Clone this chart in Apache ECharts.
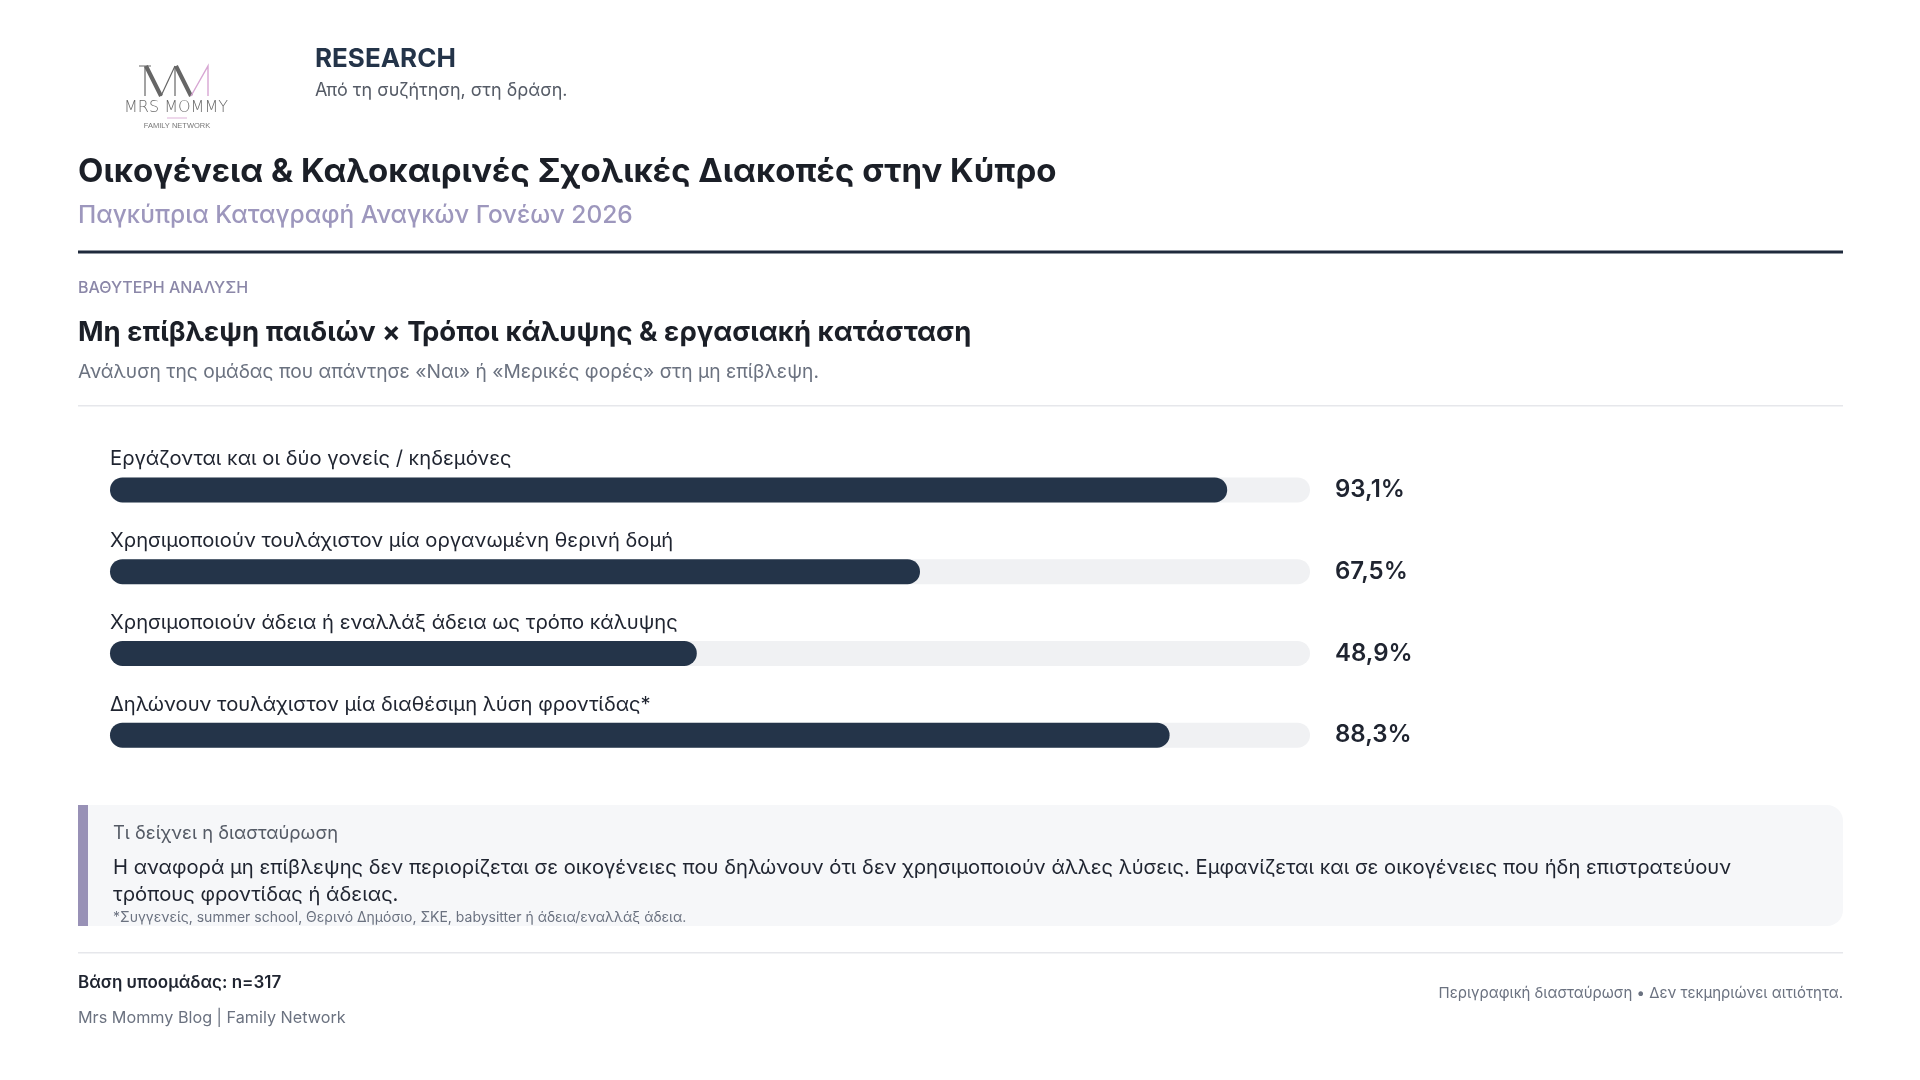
<!DOCTYPE html>
<html>
<head>
<meta charset="utf-8">
<script src="https://cdn.jsdelivr.net/npm/echarts@6/dist/echarts.min.js"></script>
<style>
html,body{margin:0;padding:0;background:#fff;}
#chart{width:1920px;height:1080px;}
</style>
</head>
<body>
<div id="chart"></div>
<script>
const categories = [
  'Εργάζονται και οι δύο γονείς / κηδεμόνες',
  'Χρησιμοποιούν τουλάχιστον μία οργανωμένη θερινή δομή',
  'Χρησιμοποιούν άδεια ή εναλλάξ άδεια ως τρόπο κάλυψης',
  'Δηλώνουν τουλάχιστον μία διαθέσιμη λύση φροντίδας*'
];
const values = [93.1, 67.5, 48.9, 88.3];
const valueLabels = values.map(v => v.toFixed(1).replace('.', ',') + '%');

const FONT = 'Inter, "Noto Sans", sans-serif';
const chart = echarts.init(document.getElementById('chart'), null, {renderer: 'canvas'});

const txt = (x, y, text, size, color, weight, align, extra) => ({
  type: 'text', x: x, y: y,
  style: Object.assign({text: text, fontSize: size, fill: color, fontWeight: weight || 400,
    fontFamily: FONT, textAlign: align || 'left', textVerticalAlign: 'middle'}, extra || {})
});

const graphics = [
  // logo
  {type: 'polyline', shape: {points: [[145, 96], [145, 66]]}, style: {stroke: '#666', lineWidth: 1.2, fill: null}},
  {type: 'polyline', shape: {points: [[146, 66], [161, 96]]}, style: {stroke: '#666', lineWidth: 4, fill: null}},
  {type: 'polyline', shape: {points: [[161, 96], [175, 66]]}, style: {stroke: '#666', lineWidth: 1.2, fill: null}},
  {type: 'polyline', shape: {points: [[175, 66], [175, 96]]}, style: {stroke: '#666', lineWidth: 1.2, fill: null}},
  {type: 'polyline', shape: {points: [[176, 66], [191, 96]]}, style: {stroke: '#666', lineWidth: 4, fill: null}},
  {type: 'polyline', shape: {points: [[191, 96], [208, 66], [208, 96]]}, style: {stroke: '#d7a6d3', lineWidth: 1.4, fill: null}},
  {type: 'polyline', shape: {points: [[139, 66], [151, 66]]}, style: {stroke: '#666', lineWidth: 1, fill: null}},
  txt(176, 108, 'MRS MOMMY', 16, '#6a6a6a', 300, 'center', {fontFamily: '"DejaVu Sans", sans-serif'}),
  {type: 'rect', shape: {x: 167, y: 117.5, width: 20, height: 1}, style: {fill: '#dcb0d6'}},
  txt(177, 126, 'FAMILY NETWORK', 7.5, '#777', 400, 'center', {fontFamily: '"Liberation Sans", sans-serif'}),

  // header
  txt(315, 59, 'RESEARCH', 26, '#243449', 700),
  txt(315, 91, 'Από τη συζήτηση, στη δράση.', 18, '#555b66', 400),
  txt(78, 172, 'Οικογένεια & Καλοκαιρινές Σχολικές Διακοπές στην Κύπρο', 33, '#1b1f27', 700),
  txt(78, 216, 'Παγκύπρια Καταγραφή Αναγκών Γονέων 2026', 24.5, '#9d97bd', 500),
  {type: 'rect', shape: {x: 78, y: 250.5, width: 1765, height: 3}, style: {fill: '#1f2a3c'}},
  txt(78, 288, 'ΒΑΘΥΤΕΡΗ ΑΝΑΛΥΣΗ', 16, '#8b87a8', 500),
  txt(78, 333, 'Μη επίβλεψη παιδιών × Τρόποι κάλυψης & εργασιακή κατάσταση', 27.5, '#1b1f27', 700),
  txt(78, 372, 'Ανάλυση της ομάδας που απάντησε «Ναι» ή «Μερικές φορές» στη μη επίβλεψη.', 19.2, '#6b7280', 400),
  {type: 'rect', shape: {x: 78, y: 405, width: 1765, height: 1.5}, style: {fill: '#e6e7eb'}},

  // callout
  {type: 'rect', shape: {x: 78, y: 805, width: 1765, height: 121, r: [0, 16, 16, 0]}, style: {fill: '#f6f7f9'}},
  {type: 'rect', shape: {x: 78, y: 805, width: 10, height: 121}, style: {fill: '#9891b6'}},
  txt(113, 833, 'Τι δείχνει η διασταύρωση', 18.4, '#555b66', 400),
  txt(113, 868, 'Η αναφορά μη επίβλεψης δεν περιορίζεται σε οικογένειες που δηλώνουν ότι δεν χρησιμοποιούν άλλες λύσεις. Εμφανίζεται και σε οικογένειες που ήδη επιστρατεύουν', 20.2, '#1f2430', 400),
  txt(113, 895, 'τρόπους φροντίδας ή άδειας.', 20.2, '#1f2430', 400),
  txt(113, 918, '*Συγγενείς, summer school, Θερινό Δημόσιο, ΣΚΕ, babysitter ή άδεια/εναλλάξ άδεια.', 14, '#6b7280', 400),

  // footer
  {type: 'rect', shape: {x: 78, y: 952, width: 1765, height: 1.5}, style: {fill: '#e6e7eb'}},
  txt(78, 983, 'Βάση υποομάδας: n=317', 17, '#1f2430', 600),
  txt(78, 1018, 'Mrs Mommy Blog | Family Network', 16.2, '#6b7280', 400),
  txt(1843, 993, 'Περιγραφική διασταύρωση • Δεν τεκμηριώνει αιτιότητα.', 15, '#6b7280', 400, 'right')
];

chart.setOption({
  animation: false,
  backgroundColor: '#ffffff',
  textStyle: {fontFamily: FONT},
  grid: {left: 110, right: 610, top: 449, bottom: 304, containLabel: false},
  xAxis: {type: 'value', min: 0, max: 100, show: false},
  yAxis: [
    {type: 'category', data: categories, inverse: true, show: false},
    {type: 'category', data: valueLabels, inverse: true, position: 'right',
      axisLine: {show: false}, axisTick: {show: false},
      axisLabel: {margin: 25, fontSize: 24, fontWeight: 600, color: '#1f2430', fontFamily: FONT}}
  ],
  series: [{
    type: 'bar',
    yAxisIndex: 0,
    data: values,
    barWidth: 25,
    showBackground: true,
    backgroundStyle: {color: '#f0f1f3', borderRadius: 13},
    itemStyle: {color: '#243449', borderRadius: 13},
    label: {
      show: true,
      position: [0, -8],
      align: 'left',
      verticalAlign: 'bottom',
      fontSize: 20.2,
      color: '#1f2430',
      fontFamily: FONT,
      formatter: p => categories[p.dataIndex]
    }
  }],
  graphic: graphics
});
</script>
</body>
</html>
